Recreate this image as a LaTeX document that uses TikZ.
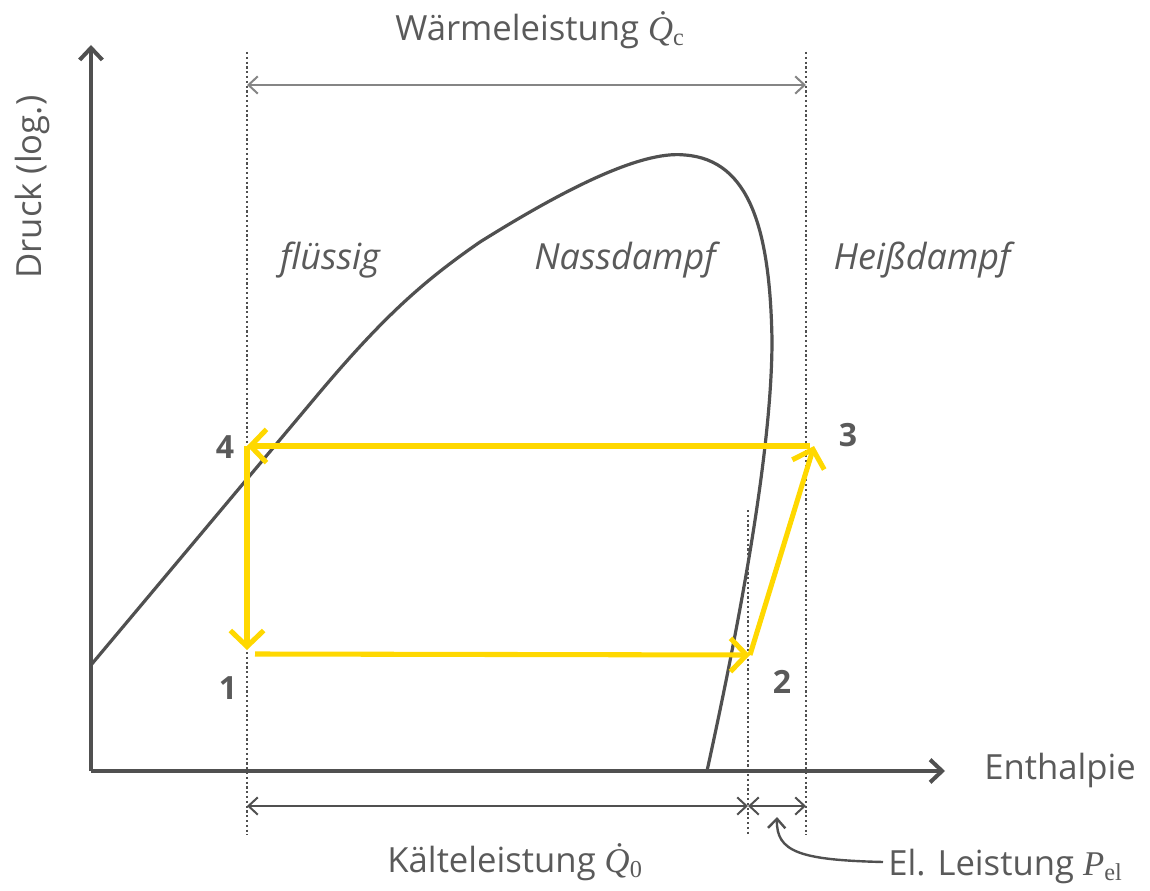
\documentclass[tikz,border=0pt]{standalone}
\usepackage{fontspec}
\setmainfont{Open Sans}
\newfontfamily\libserif{Liberation Serif}
\usetikzlibrary{arrows.meta}
\definecolor{axgray}{HTML}{505050}
\definecolor{txtgray}{HTML}{5A5A5A}
\definecolor{ltgray}{HTML}{858585}
\definecolor{cyc}{HTML}{FFD800}
\newcommand{\symQ}[1]{{\libserif\itshape\.{Q}}\textsubscript{\libserif #1}}
\begin{document}
\begin{tikzpicture}[x=0.75pt,y=-0.75pt,
  lbl/.style={text=txtgray,font=\fontsize{26}{30}\selectfont,inner sep=0pt},
  region/.style={lbl,font=\fontsize{27}{31}\selectfont\itshape},
  num/.style={lbl,font=\fontsize{24}{28}\selectfont\bfseries},
  axis/.style={draw=axgray,line width=3pt,-{Straight Barb[length=9pt,width=17pt,line width=3pt]}},
  dome/.style={draw=axgray,line width=2.4pt},
  guide/.style={draw=axgray,line width=1.6pt,dotted},
  dim/.style={draw=axgray,line width=1.5pt,{Straight Barb[length=7pt,width=13pt]}-{Straight Barb[length=7pt,width=13pt]}},
  cycle/.style={draw=cyc,line width=3.8pt,-{Straight Barb[length=12pt,width=25pt,line width=3.8pt]}}]
\useasboundingbox (0,0) rectangle (1150,891);

% axes
\coordinate (O) at (91,771);
\coordinate (ytop) at (91,45);
\coordinate (xend) at (945,771);
\draw[axis] (O) -- (ytop);
\draw[axis] (O) -- (xend);
\node[lbl,anchor=west] (enth) at (984,770) {Enthalpie};
\node[lbl,rotate=90] (druck) at (32,187) {Druck (log.)};

% guide lines
\coordinate (g1t) at (247,52);  \coordinate (g1b) at (247,835);
\coordinate (g2t) at (748,510); \coordinate (g2b) at (748,835);
\coordinate (g3t) at (806,52);  \coordinate (g3b) at (806,835);
\draw[guide] (g1t) -- (g1b);
\draw[guide] (g2t) -- (g2b);
\draw[guide] (g3t) -- (g3b);

% saturation dome
\draw[dome] (91,665) -- (320,392) .. controls (385,315) and (425,280) .. (480,242)
  .. controls (560,192) and (640,150) .. (685,155)
  .. controls (750,160) and (770,230) .. (772,340)
  .. controls (772,450) and (740,620) .. (707,771);

% dimension arrows
\coordinate (wl) at (247,85); \coordinate (wr) at (806,85);
\draw[dim,draw=ltgray] (wl) -- (wr);
\node[lbl] (waerme) at (540,30) {Wärmeleistung \symQ{c}};
\coordinate (kl) at (247,806); \coordinate (kr) at (748,806); \coordinate (pr) at (806,806);
\draw[dim] (kl) -- (kr);
\draw[dim] (kr) -- (pr);
\node[lbl] (kaelte) at (515,862) {Kälteleistung \symQ{0}};
\node[lbl,anchor=west] (pel) at (888,866) {El. Leistung {\libserif\itshape P}\textsubscript{\libserif el}};
\coordinate (ptip) at (777,817);
\draw[draw=axgray,line width=1.8pt,-{Straight Barb[length=7pt,width=13pt]}]
  (883,862) .. controls (800,860) and (776,852) .. (ptip);

% region labels
\node[region] (fl) at (330,260) {flüssig};
\node[region] (nd) at (625,260) {Nassdampf};
\node[region] (hd) at (922,260) {Heißdampf};

% cycle
\coordinate (p4) at (247,446);
\coordinate (p3) at (810,446);
\coordinate (p3t) at (814,446);
\coordinate (p2) at (750,655);
\coordinate (p1) at (255,654);
\coordinate (p1t) at (247,650);
\draw[cycle] (p3) -- (p4);
\draw[cycle] (p4) -- (p1t);
\draw[cycle] (p1) -- (p2);
\draw[cycle] (p2) -- (p3t);

\node[num] (n4) at (225,447) {4};
\node[num] (n3) at (848,435) {3};
\node[num] (n2) at (782,682) {2};
\node[num] (n1) at (228,688) {1};
\end{tikzpicture}
\end{document}
